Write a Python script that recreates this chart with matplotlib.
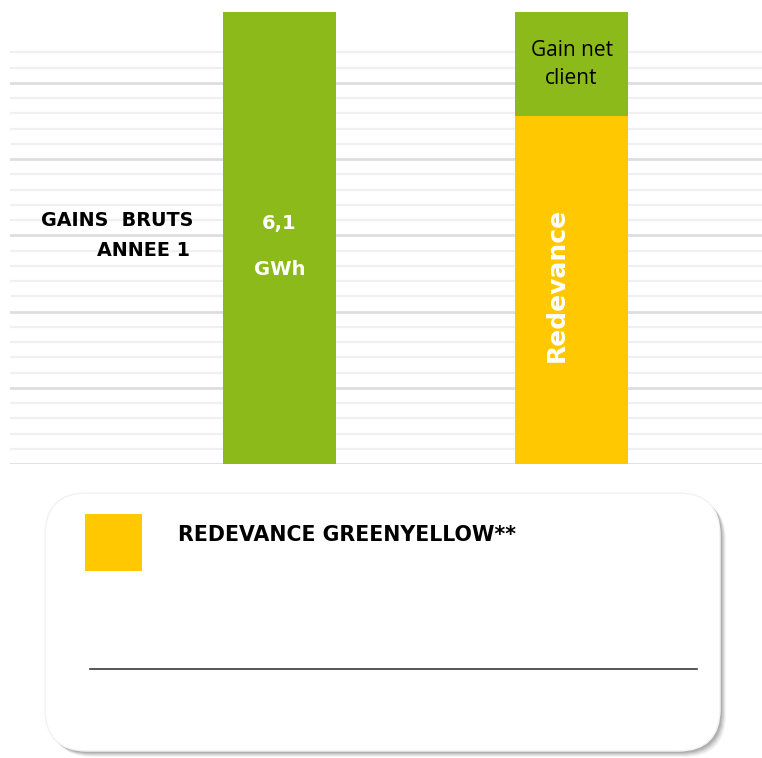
import matplotlib
matplotlib.use("Agg")
import matplotlib.pyplot as plt
from matplotlib.patches import FancyBboxPatch, Rectangle
import numpy as np

# ---- data ----
categories = ["Gains bruts", "Répartition"]
gain_brut = [5.93, 0.0]          # full green bar (6,1 GWh)
redevance = [0.0, 4.57]          # yellow segment
gain_net = [0.0, 1.36]           # green segment on top of redevance
left_label = ["GAINS  BRUTS", "ANNEE 1"]
bar_value_label = ["6,1", "GWh"]
net_label = "Gain net\nclient"
red_label = "Redevance"
legend_label = "REDEVANCE GREENYELLOW**"

GREEN = "#8BBA1A"
YELLOW = "#FFC800"

W, H = 762, 758
fig = plt.figure(figsize=(W / 100, H / 100), dpi=100)
fig.patch.set_facecolor("white")

# main axes: pixel x 10..762, y 464..12
ax = fig.add_axes([10 / W, (H - 464) / H, 752 / W, 452 / H])
ax.set_xlim(-0.923, 1.652)
ax.set_ylim(0, 5.93)
ax.axis("off")

# gridlines
for v in np.arange(0, 5.41, 0.2):
    major = abs(v - round(v)) < 1e-6
    ax.axhline(v, color="#DEDEDE" if major else "#F0F0F0",
               lw=2.0 if major else 1.6, zorder=0)

x = np.arange(len(categories))
bw = 0.387
ax.bar(x, gain_brut, width=bw, color=GREEN, zorder=2)
ax.bar(x, redevance, width=bw, color=YELLOW, zorder=2)
ax.bar(x, gain_net, width=bw, bottom=redevance, color=GREEN, zorder=2)

# left labels
ax.text(-0.296, 3.2, left_label[0], ha="right", va="center",
        fontsize=13.8, fontweight="bold", family="DejaVu Sans", color="black")
ax.text(-0.305, 2.8, left_label[1], ha="right", va="center",
        fontsize=13.8, fontweight="bold", family="DejaVu Sans", color="black")

# values in green bar
ax.text(x[0], 3.15, bar_value_label[0], ha="center", va="center",
        fontsize=14, fontweight="bold", color="white")
ax.text(x[0], 2.55, bar_value_label[1], ha="center", va="center",
        fontsize=14, fontweight="bold", color="white")

# right bar labels
ax.text(x[1], redevance[1] + gain_net[1] / 2 - 0.01, net_label, ha="center",
        va="center", fontsize=15, family="Open Sans", color="black",
        linespacing=1.45)
ax.text(x[1] - 0.05, 2.35, red_label, ha="center", va="center",
        rotation=90, fontsize=18, fontweight="bold", color="white")

# ---- legend box (pixel overlay) ----
ov = fig.add_axes([0, 0, 1, 1])
ov.set_xlim(0, W)
ov.set_ylim(H, 0)
ov.axis("off")
ov.patch.set_alpha(0)

# shadow
for i, a in enumerate([0.08, 0.10, 0.14, 0.18, 0.22]):
    off = 5 - i
    sh = FancyBboxPatch((46 + off, 494 + off), 675, 258,
                        boxstyle="round,pad=0,rounding_size=42",
                        fc="#707070", ec="none", alpha=a, zorder=1)
    ov.add_patch(sh)
box = FancyBboxPatch((45, 493), 675, 258,
                     boxstyle="round,pad=0,rounding_size=42",
                     fc="white", ec="#F2F2F2", lw=1, zorder=2)
ov.add_patch(box)
ov.add_patch(Rectangle((85, 514), 57, 57, fc=YELLOW, ec="none", zorder=3))
ov.text(178, 535, legend_label, ha="left", va="center", fontsize=14.8,
        fontweight="bold", family="DejaVu Sans", color="black", zorder=3)
ov.plot([90, 697], [669, 669], color="#3A3A3A", lw=1.2, zorder=3)

fig.savefig("out.png", dpi=100, facecolor="white")
